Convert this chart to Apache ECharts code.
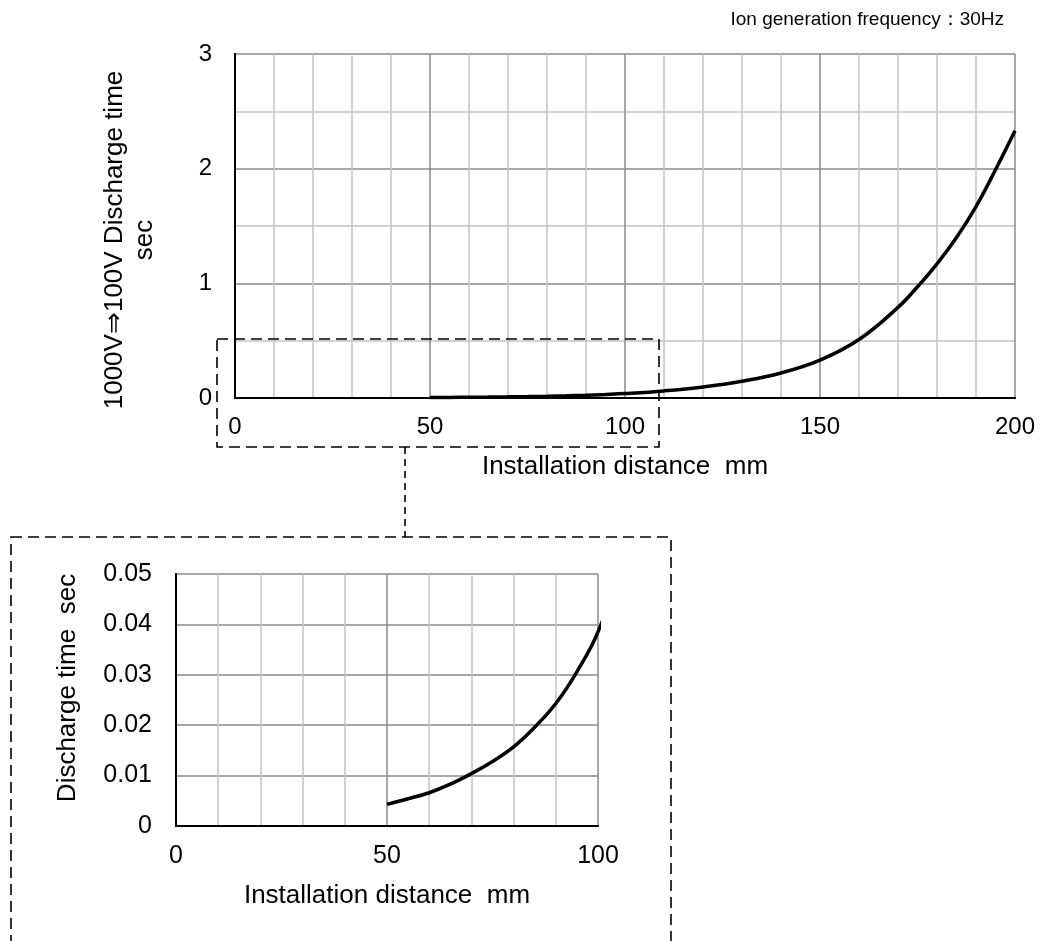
<!DOCTYPE html>
<html>
<head>
<meta charset="utf-8">
<script src="https://cdn.jsdelivr.net/npm/echarts@6/dist/echarts.min.js"></script>
<style>
  html, body { margin: 0; padding: 0; background: #fff; }
  #chart { width: 1041px; height: 941px; }
</style>
</head>
<body>
<div id="chart"></div>
<script>
// discharge time (sec) vs installation distance (mm)
const distances = [50, 55, 60, 65, 70, 75, 80, 85, 90, 95, 100, 110, 120, 130, 140, 150, 160, 170, 175, 180, 185, 190, 195, 200]
const dischargeTimes = [0.0043, 0.0054, 0.0066, 0.0083, 0.0104, 0.0128, 0.0157, 0.0196, 0.0243, 0.0306, 0.0385,
  0.062, 0.096, 0.146, 0.218, 0.33, 0.51, 0.79, 0.97, 1.17, 1.40, 1.67, 1.99, 2.33]

const mainXTicks = [0, 50, 100, 150, 200]
const mainYTicks = [0, 1, 2, 3]
const insetXTicks = [0, 50, 100]
const insetYTicks = [0, 0.01, 0.02, 0.03, 0.04, 0.05]

const titleText = 'Ion generation frequency：30Hz'
const mainYName = '1000V⇒100V Discharge time\nsec'
const insetYName = 'Discharge time  sec'
const xName = 'Installation distance  mm'

const font = 'Liberation Sans, Arial, sans-serif'
const light = '#c4c4c4'
const dark = '#8a8a8a'

const points = distances.map((d, i) => [d, dischargeTimes[i]])

function range (ticks) {
  return { min: ticks[0], max: ticks[ticks.length - 1], interval: ticks[1] - ticks[0] }
}

function valueAxis (ticks, grid, opts) {
  const r = range(ticks)
  return Object.assign({
    type: 'value',
    gridIndex: grid,
    min: r.min,
    max: r.max,
    interval: r.interval,
    axisLine: { show: true, lineStyle: { color: '#000', width: 2 } },
    axisTick: { show: false },
    axisLabel: { color: '#000', fontSize: 24, fontFamily: font },
    splitLine: { show: true, lineStyle: { color: dark, width: 1.5 } },
    nameTextStyle: { color: '#000', fontSize: 26, fontFamily: font }
  }, opts)
}

function borderAxis (ticks, grid, position) {
  const r = range(ticks)
  return {
    type: 'value',
    gridIndex: grid,
    position: position,
    min: r.min,
    max: r.max,
    z: 5,
    axisLine: { show: true, lineStyle: { color: '#000', width: 2 } },
    axisTick: { show: false },
    axisLabel: { show: false },
    splitLine: { show: false }
  }
}

const chart = echarts.init(document.getElementById('chart'), null, { renderer: 'canvas' })

chart.setOption({
  animation: false,
  backgroundColor: '#fff',
  title: {
    text: titleText,
    right: 32,
    top: 5,
    textStyle: { color: '#000', fontSize: 19, fontWeight: 'normal', fontFamily: font }
  },
  grid: [
    { left: 235, top: 54, width: 780, height: 344, outerBoundsMode: 'none', containLabel: false },
    { left: 176, top: 574, width: 422, height: 252, outerBoundsMode: 'none', containLabel: false }
  ],
  xAxis: [
    valueAxis(mainXTicks, 0, {
      name: xName,
      nameLocation: 'middle',
      nameGap: 56,
      axisLabel: { color: '#000', fontSize: 24, fontFamily: font, margin: 17 },
      minorTick: { show: false, splitNumber: 5 },
      minorSplitLine: { show: true, lineStyle: { color: light, width: 1.5 } }
    }),
    borderAxis(mainXTicks, 0, 'top'),
    valueAxis(insetXTicks, 1, {
      name: xName,
      nameLocation: 'middle',
      nameGap: 57,
      axisLabel: { color: '#000', fontSize: 25, fontFamily: font, margin: 18 },
      minorTick: { show: false, splitNumber: 5 },
      minorSplitLine: { show: true, lineStyle: { color: light, width: 1.5 } }
    }),
    borderAxis(insetXTicks, 1, 'top')
  ],
  yAxis: [
    valueAxis(mainYTicks, 0, {
      name: mainYName,
      nameLocation: 'middle',
      nameRotate: 90,
      nameGap: 75,
      nameTextStyle: { color: '#000', fontSize: 26, fontFamily: font, lineHeight: 30, padding: [0, 28, 0, 0] },
      axisLabel: { color: '#000', fontSize: 24, fontFamily: font, margin: 23 },
      minorTick: { show: false, splitNumber: 2 },
      minorSplitLine: { show: true, lineStyle: { color: light, width: 1.5 } }
    }),
    borderAxis(mainYTicks, 0, 'right'),
    valueAxis(insetYTicks, 1, {
      name: insetYName,
      nameLocation: 'middle',
      nameRotate: 90,
      nameGap: 95,
      nameTextStyle: { color: '#000', fontSize: 26, fontFamily: font, padding: [0, 0, 0, 24] },
      axisLabel: { color: '#000', fontSize: 25, fontFamily: font, margin: 24 }
    }),
    borderAxis(insetYTicks, 1, 'right')
  ],
  series: [
    {
      type: 'line',
      xAxisIndex: 0,
      yAxisIndex: 0,
      data: points,
      smooth: 0.4,
      showSymbol: false,
      clip: true,
      z: 4,
      lineStyle: { color: '#000', width: 3.5 }
    },
    {
      type: 'line',
      xAxisIndex: 2,
      yAxisIndex: 2,
      data: points,
      smooth: 0.4,
      showSymbol: false,
      clip: true,
      z: 4,
      lineStyle: { color: '#000', width: 3.5 }
    }
  ],
  graphic: [
    // dashed zoom box and its leader to the inset
    {
      type: 'rect',
      shape: { x: 217, y: 339, width: 442, height: 108 },
      style: { fill: null, stroke: '#000', lineWidth: 1.6, lineDash: [11, 6] },
      z: 10
    },
    {
      type: 'line',
      shape: { x1: 405, y1: 447, x2: 405, y2: 537 },
      style: { stroke: '#000', lineWidth: 1.6, lineDash: [7, 5] },
      z: 10
    },
    {
      type: 'rect',
      shape: { x: 11, y: 537, width: 660, height: 420 },
      style: { fill: null, stroke: '#000', lineWidth: 1.6, lineDash: [11, 6] },
      z: 10
    }
  ]
})
</script>
</body>
</html>
